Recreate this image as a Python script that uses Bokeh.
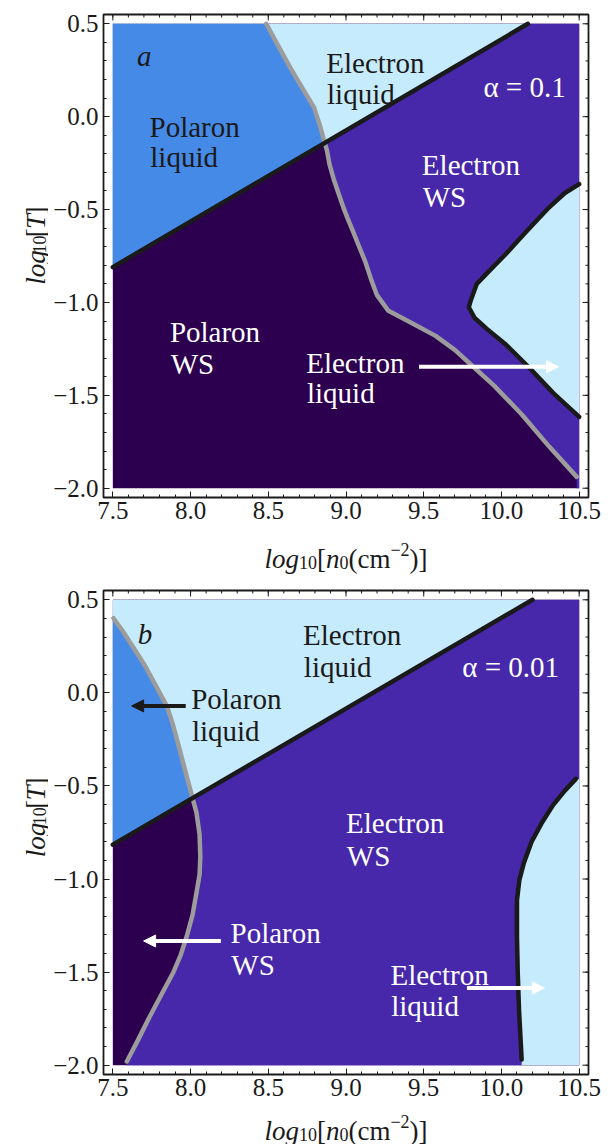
import numpy as np
from bokeh.plotting import figure
from bokeh.layouts import column, row
from bokeh.models import (Range1d, FixedTicker, LinearAxis, CustomJSTickFormatter,
                          Arrow, NormalHead)
from bokeh.core.properties import value
from bokeh.embed import file_html
from bokeh.resources import INLINE

# ---------------- data ----------------
X_MIN, X_MAX = 7.5, 10.5
Y_MIN, Y_MAX = -2.0, 0.5

x_ticks = [7.5, 8.0, 8.5, 9.0, 9.5, 10.0, 10.5]
x_tick_labels = ["7.5", "8.0", "8.5", "9.0", "9.5", "10.0", "10.5"]
y_ticks = [-2.0, -1.5, -1.0, -0.5, 0.0, 0.5]
y_tick_labels = ["\u22122.0", "\u22121.5", "\u22121.0", "\u22120.5", "0.0", "0.5"]

# panel a (alpha = 0.1): polaron / electron boundary (gray)
a_gray_x = [8.487, 8.542, 8.643, 8.731, 8.794, 8.832, 8.857, 8.877, 8.894, 8.920, 8.951,
            8.983, 9.009, 9.047, 9.084, 9.122, 9.160, 9.198, 9.273, 9.425, 9.576, 9.702,
            9.803, 9.954, 10.131, 10.307, 10.484]
a_gray_y = [0.500, 0.415, 0.261, 0.137, 0.050, -0.046, -0.123, -0.180, -0.257, -0.334, -0.411,
            -0.488, -0.545, -0.622, -0.699, -0.776, -0.872, -0.959, -1.045, -1.112, -1.180, -1.257,
            -1.334, -1.449, -1.603, -1.776, -1.939]
# melting line (black)
a_melt_x = [7.50, 10.17]
a_melt_y = [-0.81, 0.50]
# high-density electron WS / liquid boundary (black)
a_edge_x = [10.50, 10.408, 10.307, 10.156, 10.030, 9.917, 9.841, 9.803, 9.790, 9.828, 9.904,
            10.030, 10.181, 10.332, 10.50]
a_edge_y = [-0.363, -0.411, -0.488, -0.622, -0.738, -0.834, -0.901, -0.988, -1.026, -1.084, -1.141,
            -1.228, -1.353, -1.487, -1.616]

# panel b (alpha = 0.01)
b_gray_x = [7.504, 7.559, 7.635, 7.710, 7.786, 7.849, 7.887, 7.925, 7.962, 8.000, 8.038, 8.058,
            8.063, 8.058, 8.038, 8.013, 7.975, 7.937, 7.887, 7.811, 7.736, 7.660, 7.590]
b_gray_y = [0.401, 0.338, 0.240, 0.142, 0.024, -0.074, -0.172, -0.289, -0.407, -0.525, -0.643, -0.760,
            -0.878, -0.976, -1.074, -1.192, -1.309, -1.407, -1.505, -1.623, -1.741, -1.868, -1.980]
b_melt_x = [7.50, 10.20]
b_melt_y = [-0.815, 0.50]
b_edge_x = [10.479, 10.408, 10.332, 10.257, 10.194, 10.143, 10.115, 10.100, 10.100, 10.105,
            10.113, 10.123, 10.130]
b_edge_y = [-0.462, -0.525, -0.603, -0.702, -0.800, -0.917, -1.006, -1.114, -1.310, -1.506,
            -1.702, -1.859, -1.970]

# region labels
a_text = ["Electron", "liquid", "\u03b1 = 0.1", "Polaron", "liquid", "Electron", "WS",
          "Polaron", "WS", "Electron", "liquid"]
a_text_x = [8.873, 8.878, 9.884, 7.736, 7.741, 9.488, 9.493, 7.867, 7.872, 8.744, 8.749]
a_text_y = [0.290, 0.123, 0.160, -0.055, -0.219, -0.261, -0.430, -1.161, -1.334, -1.324, -1.487]
a_text_dark = [True, True, False, True, True, False, False, False, False, False, False]

b_text = ["Electron", "liquid", "\u03b1 = 0.01", "Polaron", "liquid", "Electron", "WS",
          "Polaron", "WS", "Electron", "liquid"]
b_text_x = [8.724, 8.729, 9.748, 8.004, 8.009, 9.000, 9.005, 8.257, 8.262, 9.286, 9.291]
b_text_y = [0.309, 0.138, 0.138, -0.035, -0.205, -0.701, -0.874, -1.290, -1.463, -1.516, -1.683]
b_text_dark = [True, True, False, True, True, False, False, False, False, False, False]

a_tag = ("a", 7.656, 0.329)
b_tag = ("b", 7.661, 0.314)

# arrows: x_start, y_start, x_end, y_end, dark?
a_arrows = [(9.470, -1.346, 10.367, -1.346, False)]
b_arrows = [(7.969, -0.070, 7.621, -0.070, True),
            (8.195, -1.333, 7.698, -1.333, False),
            (9.778, -1.585, 10.277, -1.585, False)]

# ---------------- style ----------------
C_PWS = "#2C004F"     # polaron WS
C_EWS = "#4727AA"     # electron WS
C_PLIQ = "#468AE8"    # polaron liquid
C_ELIQ = "#C6EBFC"    # electron liquid
C_DARK = "#1a1a1a"
C_GRAY = "#9c9c9c"
FONT = "Liberation Serif"

XR = (7.44, 10.56)
YR = (-2.05, 0.55)

W_REG = {'l': 278, 'o': 500, 'g': 500, '[': 333, ']': 333, '(': 333, ')': 333, 'c': 444,
         'm': 778, '0': 500, '1': 500, '2': 500, '\u2212': 564, 'T': 611, 'n': 500}
W_IT = {'l': 278, 'o': 500, 'g': 500, 'n': 500, 'T': 556}

XLAB = [("log", 27, True, 0), ("10", 18, False, -4), ("[", 27, False, 0), ("n", 27, True, 0),
        ("0", 18, False, -4), ("(cm", 27, False, 0), ("\u22122", 18, False, 9), (")]", 27, False, 0)]
YLAB = [("log", 27, True, 0), ("10", 18, False, -4), ("[", 27, False, 0), ("T", 27, True, 0),
        ("]", 27, False, 0)]

FULL_W = 613
YLAB_W = 48
FRAME_L = 103       # frame left edge in page pixels
FRAME_W = 485


def tw(s, size, italic):
    tab = W_IT if italic else W_REG
    return sum(tab.get(c, 500) for c in s) * size / 1000.0


def total_w(pieces):
    return sum(tw(t, s, i) for t, s, i, _ in pieces)


def blank_fig(w, h):
    f = figure(width=w, height=h, x_range=Range1d(0, w), y_range=Range1d(0, h),
               output_backend="svg", toolbar_location=None, title=None,
               x_axis_type=None, y_axis_type=None, min_border=0,
               background_fill_color="white", border_fill_color="white")
    f.grid.visible = False
    f.outline_line_color = None
    return f


def rich_text(f, pieces, x0, y0, vertical):
    xs, ys, ts, sz, st = [], [], [], [], []
    pos = 0.0
    for text, size, italic, shift in pieces:
        if vertical:
            xs.append(x0 - shift)
            ys.append(y0 + pos)
        else:
            xs.append(x0 + pos)
            ys.append(y0 + shift)
        ts.append(text)
        sz.append(f"{size}px")
        st.append("italic" if italic else "normal")
        pos += tw(text, size, italic)
    f.text(x=xs, y=ys, text=ts, text_font_size=sz, text_font_style=st,
           text_font=value(FONT), text_color=C_DARK, text_align="left",
           text_baseline="alphabetic", angle=np.pi / 2 if vertical else 0)


def ylabel_fig(h, center_from_top):
    f = blank_fig(YLAB_W, h)
    w = total_w(YLAB)
    start = h - (center_from_top + w / 2)
    rich_text(f, YLAB, 35, start, vertical=True)
    return f


def xlabel_fig(h, baseline_from_top):
    f = blank_fig(FULL_W, h)
    w = total_w(XLAB)
    rich_text(f, XLAB, FRAME_L + FRAME_W / 2 - w / 2, h - baseline_from_top, vertical=False)
    return f


def formatter(ticks, labels):
    return CustomJSTickFormatter(args=dict(vals=ticks, labs=labels), code="""
        const i = vals.findIndex(v => Math.abs(v - tick) < 1e-9);
        return i >= 0 ? labs[i] : '';
    """)


def minor(lo, hi):
    return [round(v, 2) for v in np.arange(lo, hi + 1e-9, 0.1)]


def style_axis(ax, ticks, labels, standoff):
    ax.ticker = FixedTicker(ticks=ticks, minor_ticks=minor(ticks[0], ticks[-1]))
    ax.formatter = formatter(ticks, labels)
    ax.axis_line_color = None
    ax.major_tick_in = 6
    ax.major_tick_out = 0
    ax.minor_tick_in = 3
    ax.minor_tick_out = 0
    ax.major_tick_line_color = C_DARK
    ax.minor_tick_line_color = C_DARK
    ax.major_tick_line_width = 1
    ax.minor_tick_line_width = 1
    ax.major_label_text_font = FONT
    ax.major_label_text_color = C_DARK
    ax.major_label_text_font_size = "25px"
    ax.major_label_standoff = standoff


def crossing(gx, gy, mx, my):
    s = (my[1] - my[0]) / (mx[1] - mx[0])
    f = [y - (my[0] + s * (x - mx[0])) for x, y in zip(gx, gy)]
    for i in range(len(f) - 1):
        if f[i] >= 0 and f[i + 1] < 0:
            t = f[i] / (f[i] - f[i + 1])
            return i, gx[i] + t * (gx[i + 1] - gx[i]), gy[i] + t * (gy[i + 1] - gy[i])
    return len(f) - 1, gx[-1], gy[-1]


def frame_ticks(p, frame_h):
    """Inward ticks on the top and right frame edges (mirroring the axes)."""
    ux = (XR[1] - XR[0]) / FRAME_W      # data units per pixel
    uy = (YR[1] - YR[0]) / frame_h
    xm = minor(x_ticks[0], x_ticks[-1])
    ym = minor(y_ticks[0], y_ticks[-1])
    for vals, ln in [(x_ticks, 6), (xm, 3)]:
        p.segment(x0=vals, y0=[YR[1]] * len(vals), x1=vals, y1=[YR[1] - ln * uy] * len(vals),
                  line_color=C_DARK, line_width=1)
    for vals, ln in [(y_ticks, 6), (ym, 3)]:
        p.segment(x0=[XR[1]] * len(vals), y0=vals, x1=[XR[1] - ln * ux] * len(vals), y1=vals,
                  line_color=C_DARK, line_width=1)


def make_panel(gx, gy, mx, my, ex, ey, texts, tx, ty, tdark, tag, arrows,
               frame_h, top, bottom):
    p = figure(frame_width=FRAME_W, frame_height=frame_h,
               x_range=Range1d(*XR), y_range=Range1d(*YR),
               output_backend="svg", toolbar_location=None, title=None,
               x_axis_type=None, y_axis_type=None,
               min_border_left=FRAME_L - YLAB_W, min_border_right=FULL_W - FRAME_L - FRAME_W,
               min_border_top=top, min_border_bottom=bottom,
               background_fill_color="white", border_fill_color="white")
    p.grid.visible = False
    p.outline_line_color = C_DARK
    p.outline_line_width = 1.8

    for loc, ticks, labels, so in [("below", x_ticks, x_tick_labels, 4),
                                   ("left", y_ticks, y_tick_labels, 5)]:
        ax = LinearAxis()
        style_axis(ax, ticks, labels, so)
        p.add_layout(ax, loc)

    # background: polaron WS
    p.quad(left=X_MIN, right=X_MAX, bottom=Y_MIN, top=Y_MAX, color=C_PWS, line_color=None)
    # electron WS: right of gray curve
    px = list(gx) + [gx[-1], X_MAX, X_MAX, gx[0]]
    py = list(gy) + [Y_MIN, Y_MIN, Y_MAX, Y_MAX]
    p.patch(px, py, color=C_EWS, line_color=None)
    # electron liquid: above melting line
    p.patch([mx[0], mx[1], X_MIN], [my[0], my[1], Y_MAX], color=C_ELIQ, line_color=None)
    # polaron liquid: left of gray, above melting line
    i, cx, cy = crossing(gx, gy, mx, my)
    px = list(gx[:i + 1]) + [cx, mx[0], X_MIN]
    py = list(gy[:i + 1]) + [cy, my[0], gy[0]]
    p.patch(px, py, color=C_PLIQ, line_color=None)
    # electron liquid at high density
    px = list(ex) + [ex[-1], X_MAX, X_MAX]
    py = list(ey) + [Y_MIN, Y_MIN, ey[0]]
    p.patch(px, py, color=C_ELIQ, line_color=None)

    # boundary lines
    p.line(gx, gy, line_color=C_GRAY, line_width=4.5, line_join="round", line_cap="round")
    p.line(mx, my, line_color=C_DARK, line_width=4.5, line_cap="round")
    p.line(ex, ey, line_color=C_DARK, line_width=4.5, line_join="round", line_cap="round")

    frame_ticks(p, frame_h)

    # labels
    cols = [C_DARK if d else "white" for d in tdark]
    p.text(x=tx, y=ty, text=texts, text_color=cols, text_font=value(FONT),
           text_font_size="29px", text_align="left", text_baseline="alphabetic")
    p.text(x=[tag[1]], y=[tag[2]], text=[tag[0]], text_color=C_DARK, text_font=value(FONT),
           text_font_style="italic", text_font_size="29px", text_align="left",
           text_baseline="alphabetic")

    for x0, y0, x1, y1, dark in arrows:
        c = C_DARK if dark else "white"
        p.add_layout(Arrow(end=NormalHead(size=12, fill_color=c, line_color=c, line_width=1),
                           x_start=x0, y_start=y0, x_end=x1, y_end=y1,
                           line_color=c, line_width=4))
    return p


# panel a: top border 14, frame 483, bottom 36 -> 533 ; x-label strip 53 (533..586)
p1 = make_panel(a_gray_x, a_gray_y, a_melt_x, a_melt_y, a_edge_x, a_edge_y,
                a_text, a_text_x, a_text_y, a_text_dark, a_tag, a_arrows,
                frame_h=483, top=14, bottom=36)
y1 = ylabel_fig(533, 14 + 483 / 2)
x1 = xlabel_fig(53, 25)

# panel b: top border 4, frame 484, bottom 36 -> 524 (586..1110) ; x-label strip 34
p2 = make_panel(b_gray_x, b_gray_y, b_melt_x, b_melt_y, b_edge_x, b_edge_y,
                b_text, b_text_x, b_text_y, b_text_dark, b_tag, b_arrows,
                frame_h=484, top=4, bottom=36)
y2 = ylabel_fig(524, 4 + 484 / 2)
x2 = xlabel_fig(34, 20)

layout = column(row(y1, p1, spacing=0), x1, row(y2, p2, spacing=0), x2, spacing=0)
open("out.html", "w").write(file_html(layout, INLINE))
